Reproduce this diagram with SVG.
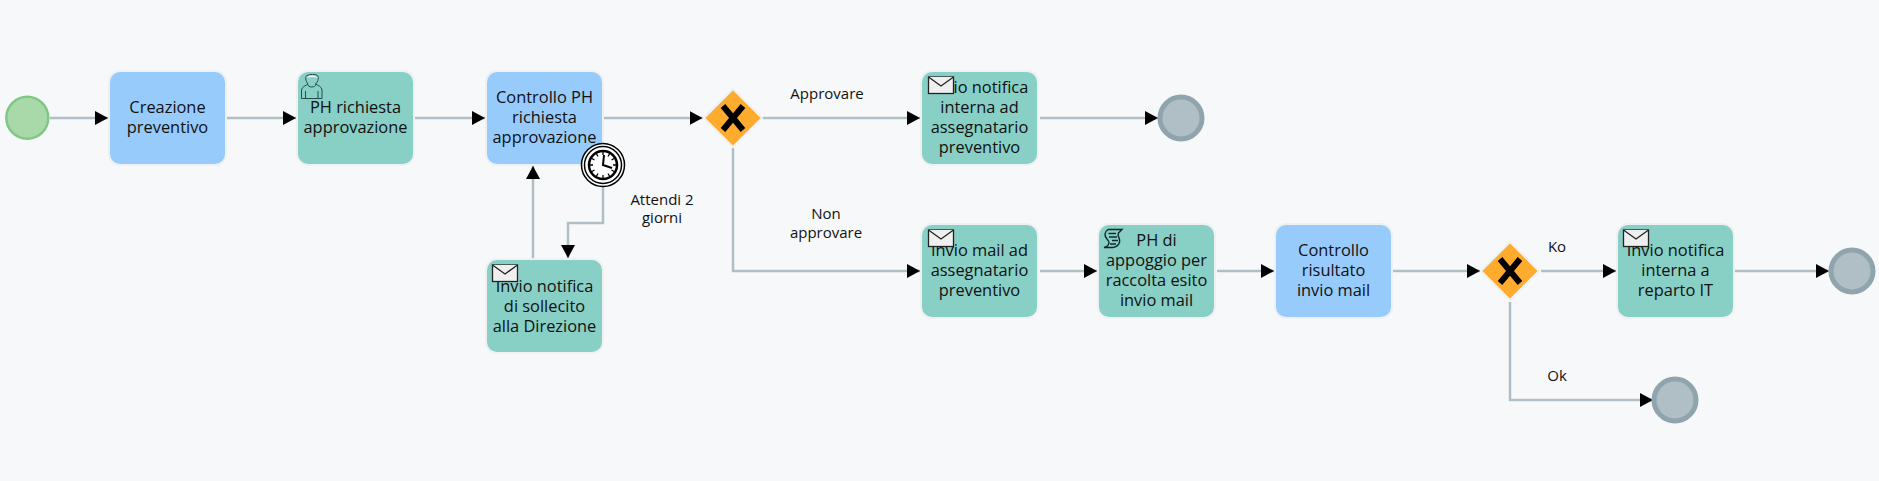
<svg xmlns="http://www.w3.org/2000/svg" width="1879" height="481" viewBox="0 0 1879 481">
<style>
text{font-family:"Open Sans","Noto Sans","Liberation Sans",sans-serif;fill:#111;text-anchor:middle}
.t{font-size:16.4px}
.l{font-size:15px}
.halo{fill:none;stroke:#eef0f2;stroke-width:2}
.task{stroke:none}
.blue{fill:#97cbfb}
.green{fill:#88cfc5}
.c{fill:none;stroke:#b0bec5;stroke-width:2.500;marker-end:url(#a)}
.end{fill:#b0bec5;stroke:#90a4ae;stroke-width:5}
.gw{fill:#ffab2e;stroke:#eef0f2;stroke-width:2}
.x{fill:none;stroke:#000;stroke-width:6}
.env{fill:#efefef;stroke:#222;stroke-width:1.300}
.ic{fill:none;stroke:#274b4e;stroke-width:1}
</style>
<defs>
<marker id="a" markerUnits="userSpaceOnUse" markerWidth="13" markerHeight="14" refX="13" refY="7" orient="auto"><path d="M0 0L13 7L0 14z" fill="#000"/></marker>
<g id="envelope"><rect class="env" x="0" y="0" width="25" height="16.500"/><path class="env" d="M0 0L12.500 9L25 0" fill="none"/></g>
<g id="taskbox"><rect class="halo" x="-1" y="-1" width="117" height="94" rx="11"/></g>
<g id="gateway"><path class="gw" d="M0 -29L29 0L0 29L-29 0z"/><path class="x" d="M-10 -12L10 12M10 -12L-10 12"/></g>
</defs>
<rect width="1879" height="481" fill="#f6f8fa"/>
<g id="connectors">
<path class="c" d="M50 118H108"/>
<path class="c" d="M227 118H296"/>
<path class="c" d="M415 118H485"/>
<path class="c" d="M604 118H702.500"/>
<path class="c" d="M763 118H920"/>
<path class="c" d="M1040 118H1158"/>
<path class="c" d="M733 148V271H920"/>
<path class="c" d="M1040 271H1097"/>
<path class="c" d="M1217 271H1274"/>
<path class="c" d="M1393 271H1480"/>
<path class="c" d="M1541 271H1616"/>
<path class="c" d="M1735 271H1829"/>
<path class="c" d="M1510 302V400H1653"/>
<path class="c" d="M533 258V166"/>
<path class="c" d="M603 187V223H568V258"/>
</g>
<g id="start"><circle cx="27.300" cy="117.700" r="21" fill="#a9d8a9" stroke="#81c784" stroke-width="2.500"/></g>
<g id="creazione"><use href="#taskbox" x="110" y="72"/><rect class="task blue" x="110" y="72" width="115" height="92" rx="10"/><text class="t" x="167.500" y="113">Creazione</text><text class="t" x="167.500" y="133">preventivo</text></g>
<g id="richiesta"><use href="#taskbox" x="298" y="72"/><rect class="task green" x="298" y="72" width="115" height="92" rx="10"/><text class="t" x="355.500" y="113">PH richiesta</text><text class="t" x="355.500" y="133">approvazione</text>
<path class="ic" d="M301.500 98.500V90C302 86.500 306 85.500 308 84C305.500 81.500 305 76 307 75.500C309 74 316 74 317.500 75.500C319 77 318.500 81.500 315.500 84C318 85.500 321.500 86.500 322 90V98.500ZM305.500 98.500V91M318 98.500V91M307.500 84C308 88 315.500 88 316 84"/><path d="M306.500 78C308 74.500 316 74.500 318 78C314 76.500 310 76.500 306.500 78z" fill="#f1f5f5"/></g>
<g id="controllo"><use href="#taskbox" x="487" y="72"/><rect class="task blue" x="487" y="72" width="115" height="92" rx="10"/><text class="t" x="544.500" y="103">Controllo PH</text><text class="t" x="544.500" y="123">richiesta</text><text class="t" x="544.500" y="143">approvazione</text></g>
<g id="timer"><circle cx="603" cy="165" r="21.500" fill="#fff" stroke="#000" stroke-width="1.500"/><circle cx="603" cy="165" r="18.500" fill="#fff" stroke="#000" stroke-width="1.500"/><circle cx="603" cy="165" r="14" fill="#fff" stroke="#000" stroke-width="2.500"/>
<path d="M603 151V155M603 175V179M589 165H593M613 165H617M596 153L598 156.500M610 153L608 156.500M596 177L598 173.500M610 177L608 173.500M591 158L594.500 160M615 158L611.500 160M591 172L594.500 170M615 172L611.500 170" stroke="#000" stroke-width="1.300" fill="none"/>
<path d="M604 155L603 165L612 168" stroke="#000" stroke-width="2" fill="none"/></g>
<g id="sollecito"><use href="#taskbox" x="487" y="260"/><rect class="task green" x="487" y="260" width="115" height="92" rx="10"/><text class="t" x="544.500" y="292">Invio notifica</text><text class="t" x="544.500" y="312">di sollecito</text><text class="t" x="544.500" y="332">alla Direzione</text><use href="#envelope" x="492.500" y="265"/></g>
<g id="gw1"><use href="#gateway" x="733" y="118"/></g>
<g id="notifica-ad"><use href="#taskbox" x="922" y="72"/><rect class="task green" x="922" y="72" width="115" height="92" rx="10"/><text class="t" x="979.500" y="93">Invio notifica</text><text class="t" x="979.500" y="113">interna ad</text><text class="t" x="979.500" y="133">assegnatario</text><text class="t" x="979.500" y="153">preventivo</text><use href="#envelope" x="928.500" y="77"/></g>
<g id="end1"><circle class="end" cx="1181" cy="118" r="21"/></g>
<g id="mail"><use href="#taskbox" x="922" y="225"/><rect class="task green" x="922" y="225" width="115" height="92" rx="10"/><text class="t" x="979.500" y="256">Invio mail ad</text><text class="t" x="979.500" y="276">assegnatario</text><text class="t" x="979.500" y="296">preventivo</text><use href="#envelope" x="928.500" y="230"/></g>
<g id="appoggio"><use href="#taskbox" x="1099" y="225"/><rect class="task green" x="1099" y="225" width="115" height="92" rx="10"/><text class="t" x="1156.500" y="246">PH di</text><text class="t" x="1156.500" y="266">appoggio per</text><text class="t" x="1156.500" y="286">raccolta esito</text><text class="t" x="1156.500" y="306">invio mail</text>
<path d="M1108 229.500H1122L1118.500 233C1116.500 236 1121 238.500 1119.500 242.500C1118.500 245 1116 247 1113 247.500H1104C1108 246.500 1110 243.500 1108.500 241C1107 238.500 1104.500 237 1105 234C1105.300 232 1106.500 230.500 1108 229.500ZM1108.500 233.500H1116M1109 237H1117M1112 240.500H1118M1110 244H1116" fill="none" stroke="#0d2a2a" stroke-width="1.400"/></g>
<g id="risultato"><use href="#taskbox" x="1276" y="225"/><rect class="task blue" x="1276" y="225" width="115" height="92" rx="10"/><text class="t" x="1333.500" y="256">Controllo</text><text class="t" x="1333.500" y="276">risultato</text><text class="t" x="1333.500" y="296">invio mail</text></g>
<g id="gw2"><use href="#gateway" x="1510" y="271"/></g>
<g id="reparto"><use href="#taskbox" x="1618" y="225"/><rect class="task green" x="1618" y="225" width="115" height="92" rx="10"/><text class="t" x="1675.500" y="256">Invio notifica</text><text class="t" x="1675.500" y="276">interna a</text><text class="t" x="1675.500" y="296">reparto IT</text><use href="#envelope" x="1623.500" y="230"/></g>
<g id="end2"><circle class="end" cx="1852" cy="271" r="21"/></g>
<g id="end3"><circle class="end" cx="1675" cy="400" r="21"/></g>
<g id="labels">
<text class="l" x="827" y="99">Approvare</text>
<text class="l" x="826" y="219">Non</text><text class="l" x="826" y="237.500">approvare</text>
<text class="l" x="662" y="205">Attendi 2</text><text class="l" x="662" y="223">giorni</text>
<text class="l" x="1557" y="252">Ko</text>
<text class="l" x="1557" y="381">Ok</text>
</g>
</svg>
